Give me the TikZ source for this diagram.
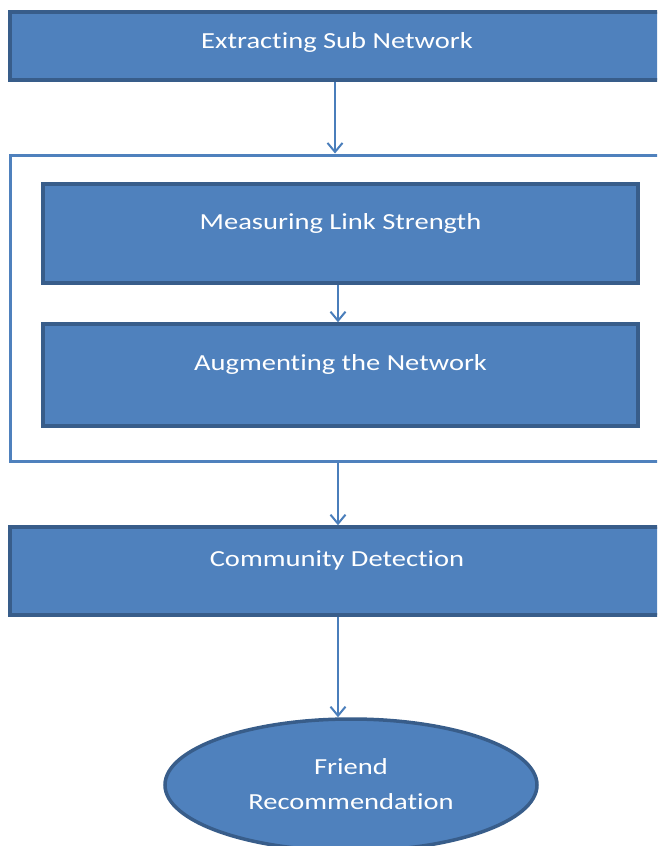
\documentclass[tikz,border=0pt]{standalone}
\usepackage{fontspec}
\setmainfont{Carlito}[Ligatures=NoCommon, FakeStretch=1.24]
\usetikzlibrary{arrows.meta,shapes.geometric}
\definecolor{boxfill}{HTML}{4F81BD}
\definecolor{boxline}{HTML}{385D8A}
\definecolor{arrowcol}{HTML}{4A7EBB}
\tikzset{
  x=1pt, y=1pt,
  stepbox/.style={draw=boxline, fill=boxfill, line width=3.5pt, rectangle, inner sep=0pt},
  framebox/.style={draw=boxfill, line width=3pt, rectangle, inner sep=0pt},
  endnode/.style={draw=boxline, fill=boxfill, line width=3.5pt, ellipse, inner sep=0pt},
  boxtext/.style={text=white, font=\fontsize{23}{35}\selectfont, align=center, inner sep=0pt},
  flow/.style={draw=arrowcol, line width=2pt, -{Straight Barb[length=9pt,width=15pt,line width=2pt]}}
}
\begin{document}
\begin{tikzpicture}
\useasboundingbox (0,0) rectangle (657,-846);
\clip (0,0) rectangle (657,-846);
\node[stepbox, minimum width=654, minimum height=68] (top) at (337,-46) {};
\node[boxtext] (toptext) at (337,-42) {Extracting Sub Network};
\node[framebox, minimum width=654, minimum height=306] (cont) at (337,-308) {};
\node[stepbox, minimum width=595, minimum height=99] (meas) at (340.5,-233.5) {};
\node[boxtext] (meastext) at (340.5,-223) {Measuring Link Strength};
\node[stepbox, minimum width=595, minimum height=102] (aug) at (340.5,-375) {};
\node[boxtext] (augtext) at (340.5,-364) {Augmenting the Network};
\node[stepbox, minimum width=654, minimum height=88] (comm) at (337,-571) {};
\node[boxtext] (commtext) at (337,-560) {Community Detection};
\node[endnode, minimum width=372, minimum height=132] (friend) at (351,-785) {};
\node[boxtext] (friendtext) at (351,-784) {Friend\\Recommendation};
\coordinate (xa) at (335,0);
\coordinate (xb) at (338,0);
\draw[flow] (top.south -| xa) -- (cont.north -| xa);
\draw[flow] (meas.south -| xb) -- (aug.north -| xb);
\draw[flow] (cont.south -| xb) -- (comm.north -| xb);
\draw[flow] (comm.south -| xb) -- (friend.north -| xb);
\end{tikzpicture}
\end{document}
